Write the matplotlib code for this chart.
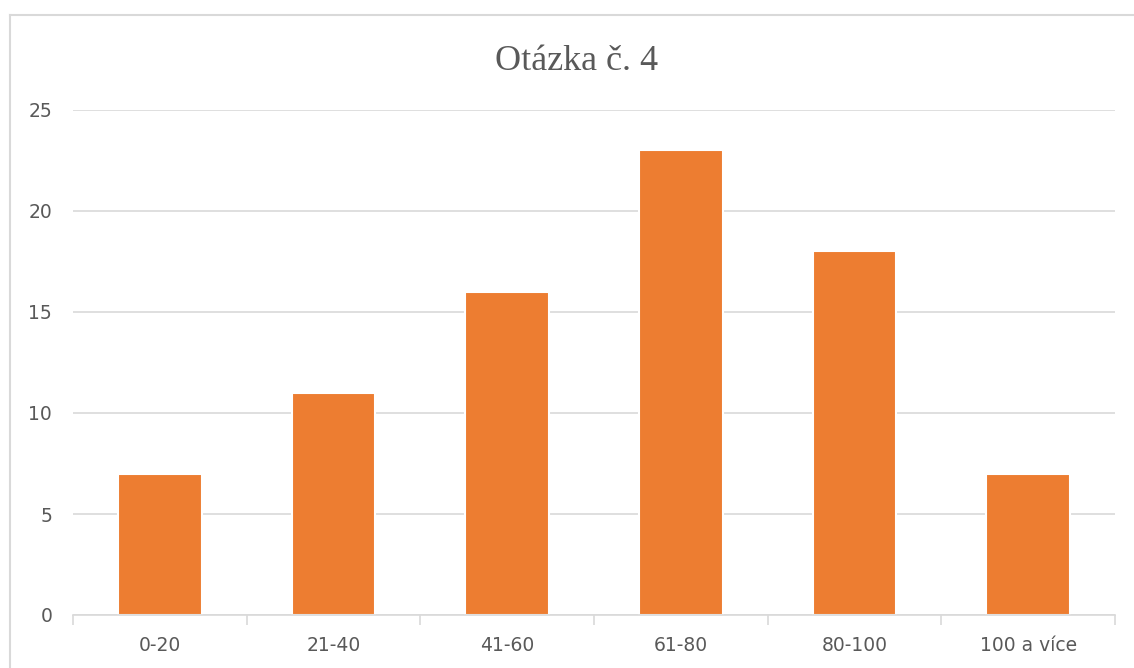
import numpy as np
import matplotlib.pyplot as plt
from matplotlib.lines import Line2D

categories = ['0-20', '21-40', '41-60', '61-80', '80-100', '100 a více']
values = [7, 11, 16, 23, 18, 7]
title = 'Otázka č. 4'

W, H = 1134, 668


def main():
    fig = plt.figure(figsize=(W / 100, H / 100), dpi=100)
    ax = fig.add_axes([73 / W, 53 / H, (1115 - 73) / W, 505 / H])

    x = np.arange(len(categories))
    ax.bar(x, values, width=0.48, color='#ED7D31', edgecolor='white',
           linewidth=1.5, zorder=3)

    ax.set_xlim(-0.5, len(categories) - 0.5)
    ax.set_ylim(0, 25)
    ax.set_yticks(range(0, 26, 5))
    ax.set_xticks(x)
    ax.set_xticklabels(categories)
    ax.set_xticks(np.arange(-0.5, len(categories)), minor=True)

    ax.grid(axis='y', color='#D9D9D9', linewidth=1.2, zorder=0)
    for s in ['top', 'right', 'left']:
        ax.spines[s].set_visible(False)
    ax.spines['bottom'].set_color('#D9D9D9')
    ax.spines['bottom'].set_linewidth(1.2)
    ax.spines['bottom'].set_zorder(4)

    ax.tick_params(axis='x', which='major', length=0, pad=15,
                   labelsize=13.5, labelcolor='#595959')
    ax.tick_params(axis='x', which='minor', length=7, width=1.2, color='#D9D9D9')
    ax.tick_params(axis='y', length=0, pad=15, labelsize=13.5, labelcolor='#595959')

    fig.text(577 / W, 1 - 61 / H, title, ha='center', va='center',
             fontsize=26, color='#595959', family='Liberation Serif')

    # chart frame (only top and left edges visible)
    fx, fy = 10 / W, 1 - 15 / H
    fig.add_artist(Line2D([fx, fx], [0, fy], transform=fig.transFigure,
                          color='#D9D9D9', linewidth=1.5))
    fig.add_artist(Line2D([fx, 1], [fy, fy], transform=fig.transFigure,
                          color='#D9D9D9', linewidth=1.5))

    fig.savefig('out.png', dpi=100)


if __name__ == '__main__':
    main()
